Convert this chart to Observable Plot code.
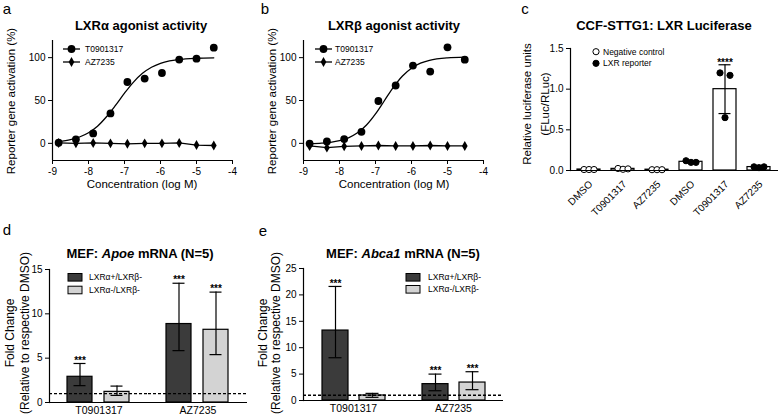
<!DOCTYPE html>
<html><head><meta charset="utf-8">
<script src="https://cdn.jsdelivr.net/npm/d3@7"></script>
<script src="https://cdn.jsdelivr.net/npm/@observablehq/plot@0.6"></script>
<style>
body{margin:0;background:#fff;}
#wrap{position:relative;width:778px;height:418px;overflow:hidden;background:#fff;font-family:"Liberation Sans",Arial,sans-serif;color:#000;}
.abs{position:absolute;white-space:nowrap;line-height:1;}
.panel{position:absolute;}
.panel svg{overflow:visible;}
</style></head><body><div id="wrap"></div>
<script>
// ---------- data ----------
// Panels a & b: concentration series (log M)
const concLog = [-8.83, -8.35, -7.87, -7.39, -6.92, -6.44, -5.96, -5.48, -5.0, -4.52];
const aT0901317 = [0.7, 4.7, 11.6, 34.9, 71.6, 75.6, 82.1, 97.7, 98.8, 111.6];
const aAZ7235 = [0.5, 0, 0.5, 0, -0.5, 0, 0, 0.5, -2, -2.5];
const bT0901317 = [-0.3, 2.3, 5, 13.5, 49.4, 67.5, 90.7, 83.8, 112, 97.6];
const bAZ7235 = [-3, -5, -3.5, -3, -2.5, -3, -3, -2.5, -3, -3];
// fitted curves
const fitX = [-8.83, -8.5, -8.25, -8, -7.75, -7.5, -7.25, -7, -6.75, -6.5, -6.25, -6, -5.75, -5.5, -5, -4.52];
const aFit = [2, 4.3, 7.4, 12.4, 20, 31, 44.3, 58.5, 71.5, 81.7, 88.8, 93.4, 96.2, 97.8, 99.3, 99.8];
const bFit = [-0.5, 0.2, 1.2, 3.1, 6.5, 12.3, 21.4, 34.4, 50, 65.6, 78.6, 87.7, 93.5, 96.9, 99.8, 100.6];
const xTicksAB = [-9, -8, -7, -6, -5, -4];
const yTicksAB = [0, 50, 100];

// Panel c
const cCond = ["DMSO", "T0901317", "AZ7235", "DMSO", "T0901317", "AZ7235"];
const cCell = ["Negative control", "Negative control", "Negative control", "LXR reporter", "LXR reporter", "LXR reporter"];
const cMean = [0.012, 0.02, 0.01, 0.107, 1.0, 0.042];
const cSD = [0.003, 0.005, 0.002, 0.012, 0.3, 0.006];
const cRep1 = [0.012, 0.025, 0.01, 0.12, 1.2, 0.045];
const cRep2 = [0.012, 0.015, 0.01, 0.1, 0.65, 0.035];
const cRep3 = [0.012, 0.02, 0.01, 0.1, 1.17, 0.045];
const cStars = ["", "", "", "", "****", ""];
const yTicksC = [0, 0.5, 1.0, 1.5];

// Panels d & e
const compounds = ["T0901317", "AZ7235"];
const genotypes = ["LXRα+/LXRβ-", "LXRα-/LXRβ-"];
const barColors = ["#3b3b3b", "#d3d3d3"];
// order: T0901317 (+/-), T0901317 (-/-), AZ7235 (+/-), AZ7235 (-/-)
const apoeMean = [2.9, 1.2, 8.85, 8.2];
const apoeLow = [1.9, 0.8, 5.85, 5.4];
const apoeHigh = [4.4, 1.85, 13.45, 12.45];
const apoeStars = ["***", "", "***", "***"];
const abcaMean = [13.25, 0.95, 3.1, 3.4];
const abcaLow = [8.1, 0.6, 1.85, 2.05];
const abcaHigh = [21.6, 1.35, 5.0, 5.45];
const abcaStars = ["***", "", "***", "***"];

// ---------- helpers ----------
const wrap = document.getElementById("wrap");
const FONT = '"Liberation Sans", Arial, sans-serif';
const baseStyle = {fontFamily: FONT, fontSize: "10px", color: "#000", background: "transparent", overflow: "visible"};

function place(node, left, top) {
  const d = document.createElement("div");
  d.className = "panel";
  d.style.left = left + "px"; d.style.top = top + "px";
  d.appendChild(node);
  wrap.appendChild(d);
}
function txt(html, x, y, o = {}) {
  const d = document.createElement("div");
  d.className = "abs";
  d.innerHTML = html;
  d.style.left = x + "px"; d.style.top = y + "px";
  d.style.fontSize = (o.size || 10) + "px";
  d.style.fontWeight = o.weight || "normal";
  const tx = o.anchor === "start" ? "0" : "-50%";
  d.style.transform = `translate(${tx},-50%)` + (o.rotate ? ` rotate(${o.rotate}deg)` : "");
  wrap.appendChild(d);
}

// ---------- panels a & b ----------
function doseResponse(tVals, azVals, fitVals, ml, mr) {
  const tData = concLog.map((x, i) => ({x, y: tVals[i]}));
  const azData = concLog.map((x, i) => ({x, y: azVals[i]}));
  const fitData = fitX.map((x, i) => ({x, y: fitVals[i]}));
  return Plot.plot({
    width: 260, height: 200, marginLeft: ml, marginRight: mr, marginTop: 40, marginBottom: 40,
    style: baseStyle,
    x: {domain: [-9, -4], label: null},
    y: {domain: [-20, 120], label: null},
    marks: [
      Plot.ruleX([-9], {strokeWidth: 1.2}),
      Plot.ruleY([-20], {strokeWidth: 1.2}),
      Plot.axisX({ticks: xTicksAB, tickFormat: d => String(d), tickSize: 4, tickPadding: 3, label: null}),
      Plot.axisY({ticks: yTicksAB, tickSize: 4, tickPadding: 3, label: null}),
      Plot.line(fitData, {x: "x", y: "y", curve: "monotone-x", stroke: "#000", strokeWidth: 1.3}),
      Plot.line(azData, {x: "x", y: "y", stroke: "#000", strokeWidth: 1.3}),
      Plot.dot(azData, {x: "x", y: "y", symbol: "diamond", r: 3, fill: "#000"}),
      Plot.dot(tData, {x: "x", y: "y", r: 3.9, fill: "#000"})
    ]
  });
}
place(doseResponse(aT0901317, aAZ7235, aFit, 52, 28), 0, 0);
place(doseResponse(bT0901317, bAZ7235, bFit, 43, 37), 260, 0);

// ---------- panel c ----------
const cRows = cMean.map((m, i) => ({i, cond: cCond[i], cell: cCell[i], mean: m, lo: m - cSD[i], hi: m + cSD[i], stars: cStars[i]}));
const cReps = [];
[cRep1, cRep2, cRep3].forEach((arr, r) => arr.forEach((v, i) => cReps.push({i, rep: r, v, fill: cCell[i] === "LXR reporter" ? "#000" : "#fff"})));
const repDx = [-5, 0, 5];
const pC = Plot.plot({
  width: 258, height: 215, marginLeft: 50, marginRight: 0, marginTop: 48, marginBottom: 45,
  style: baseStyle,
  x: {domain: d3.range(6), paddingInner: 0.32, paddingOuter: 0.16, label: null},
  y: {domain: [0, 1.5], label: null},
  marks: [
    Plot.barY(cRows, {x: "i", y: "mean", fill: "#fff", stroke: "#000", strokeWidth: 1.2}),
    Plot.ruleX(cRows, {x: "i", y1: "lo", y2: "hi", strokeWidth: 1.2}),
    Plot.tickY(cRows, {x: "i", y: "lo", insetLeft: 5.5, insetRight: 5.5, strokeWidth: 1.2}),
    Plot.tickY(cRows, {x: "i", y: "hi", insetLeft: 5.5, insetRight: 5.5, strokeWidth: 1.2}),
    ...[0, 1, 2].map(r => Plot.dot(cReps.filter(d => d.rep === r), {x: "i", y: "v", dx: repDx[r], r: 3.1, fill: "fill", stroke: "#000", strokeWidth: 1})),
    Plot.text(cRows.filter(d => d.stars), {x: "i", y: "hi", text: "stars", dy: -2, fontSize: 10, fontWeight: "bold"}),
    Plot.ruleY([0], {strokeWidth: 1.2}),
    Plot.frame({anchor: "left", strokeWidth: 1.2}),
    Plot.axisY({ticks: yTicksC, tickFormat: d3.format(".1f"), tickSize: 4, tickPadding: 3, label: null}),
    Plot.axisX({tickFormat: i => cCond[i], tickRotate: -45, tickSize: 0, tickPadding: 5, dy: 7, dx: 2, label: null})
  ]
});
place(pC, 520, 0);

// ---------- panels d & e ----------
function grouped(mean, low, high, stars, yMax, yTicks, ml, mr, mt, mb, pi, po) {
  const rows = mean.map((m, k) => ({compound: compounds[Math.floor(k / 2)], genotype: genotypes[k % 2], mean: m, lo: low[k], hi: high[k], stars: stars[k]}));
  return Plot.plot({
    width: 260, height: 218, marginLeft: ml, marginRight: mr, marginTop: mt, marginBottom: mb,
    style: baseStyle,
    fx: {domain: compounds, padding: 0, label: null},
    x: {domain: genotypes, paddingInner: pi, paddingOuter: po, axis: null},
    y: {domain: [0, yMax], label: null},
    color: {domain: genotypes, range: barColors},
    marks: [
      Plot.barY(rows, {fx: "compound", x: "genotype", y: "mean", fill: "genotype", stroke: "#000", strokeWidth: 1.2}),
      Plot.ruleX(rows, {fx: "compound", x: "genotype", y1: "lo", y2: "hi", strokeWidth: 1.2}),
      Plot.tickY(rows, {fx: "compound", x: "genotype", y: "lo", insetLeft: 6.5, insetRight: 6.5, strokeWidth: 1.2}),
      Plot.tickY(rows, {fx: "compound", x: "genotype", y: "hi", insetLeft: 6.5, insetRight: 6.5, strokeWidth: 1.2}),
      Plot.text(rows.filter(d => d.stars), {fx: "compound", x: "genotype", y: "hi", text: "stars", dy: -3, fontSize: 10, fontWeight: "bold"}),
      Plot.ruleY([1], {strokeDasharray: "3,2", strokeWidth: 1.4}),
      Plot.ruleY([0], {strokeWidth: 1.2}),
      Plot.frame({anchor: "left", facet: "super", strokeWidth: 1.2}),
      Plot.axisY({ticks: yTicks, tickSize: 4, tickPadding: 3, label: null}),
      Plot.axisFx({anchor: "bottom", tickSize: 0, tickPadding: 4, fontSize: 10.5, label: null})
    ]
  });
}
place(grouped(apoeMean, apoeLow, apoeHigh, apoeStars, 15, [0, 5, 10, 15], 48, 13, 69, 16, 0.32, 0.47), 0, 200);
place(grouped(abcaMean, abcaLow, abcaHigh, abcaStars, 25, [0, 5, 10, 15, 20, 25], 42, 17, 68, 18, 0.31, 0.5), 260, 200);

// ---------- titles, labels ----------
txt("a", 7, 8, {size: 15});
txt("b", 265, 8, {size: 15});
txt("c", 525, 8, {size: 15});
txt("d", 7, 229, {size: 15});
txt("e", 263, 230, {size: 15});

txt("LXRα agonist activity", 141, 25, {size: 13, weight: "bold"});
txt("LXRβ agonist activity", 394, 25, {size: 13, weight: "bold"});
txt("CCF-STTG1: LXR Luciferase", 664, 25, {size: 13, weight: "bold"});
txt("MEF: <i>Apoe</i> mRNA (N=5)", 140, 253, {size: 13, weight: "bold"});
txt("MEF: <i>Abca1</i> mRNA (N=5)", 403, 253, {size: 13, weight: "bold"});

txt("Concentration (log M)", 142, 185, {size: 11.5});
txt("Concentration (log M)", 394, 185, {size: 11.5});
txt("Reporter gene activation (%)", 12, 101, {size: 11.5, rotate: -90});
txt("Reporter gene activation (%)", 273, 101, {size: 11.5, rotate: -90});
txt("Relative luciferase units", 528, 104, {size: 11.5, rotate: -90});
txt("(FLuc/RLuc)", 546, 104, {size: 11.5, rotate: -90});
txt("Fold Change", 10, 333, {size: 12, rotate: -90});
txt("(Relative to respective DMSO)", 25, 333, {size: 12, rotate: -90});
txt("Fold Change", 263, 333, {size: 12, rotate: -90});
txt("(Relative to respective DMSO)", 276, 333, {size: 12, rotate: -90});

// ---------- legends ----------
const ov = d3.create("svg").attr("width", 778).attr("height", 418)
  .style("position", "absolute").style("left", 0).style("top", 0).style("pointer-events", "none");
function lineLegend(x1, x2, y, sym) {
  ov.append("line").attr("x1", x1).attr("x2", x2).attr("y1", y).attr("y2", y).attr("stroke", "#000").attr("stroke-width", 1.3);
  if (sym === "circle") ov.append("circle").attr("cx", (x1 + x2) / 2).attr("cy", y).attr("r", 3.9).attr("fill", "#000");
  else ov.append("path").attr("d", d3.symbol(d3.symbolDiamond, 28)()).attr("transform", `translate(${(x1 + x2) / 2},${y})`).attr("fill", "#000");
}
lineLegend(63, 80, 49, "circle"); lineLegend(63, 80, 62, "diamond");
lineLegend(315, 332, 49, "circle"); lineLegend(315, 332, 62, "diamond");
ov.append("circle").attr("cx", 596).attr("cy", 51.7).attr("r", 3.1).attr("fill", "#fff").attr("stroke", "#000");
ov.append("circle").attr("cx", 596).attr("cy", 63.3).attr("r", 3.1).attr("fill", "#000").attr("stroke", "#000");
function swatch(x, y, c) {
  ov.append("rect").attr("x", x).attr("y", y - 3.8).attr("width", 14).attr("height", 7.6).attr("fill", c).attr("stroke", "#000").attr("stroke-width", 1);
}
swatch(68, 277.3, barColors[0]); swatch(68, 290, barColors[1]);
swatch(406, 277.3, barColors[0]); swatch(406, 289.3, barColors[1]);
wrap.appendChild(ov.node());

txt("T0901317", 85, 49, {size: 8.5, anchor: "start"});
txt("AZ7235", 85, 62, {size: 8.5, anchor: "start"});
txt("T0901317", 335, 49, {size: 8.5, anchor: "start"});
txt("AZ7235", 335, 62, {size: 8.5, anchor: "start"});
txt("Negative control", 603, 51.7, {size: 8.5, anchor: "start"});
txt("LXR reporter", 603, 63.3, {size: 8.5, anchor: "start"});
txt(genotypes[0], 89, 277.3, {size: 8.5, anchor: "start"});
txt(genotypes[1], 89, 290, {size: 8.5, anchor: "start"});
txt(genotypes[0], 428, 277.3, {size: 8.5, anchor: "start"});
txt(genotypes[1], 428, 289.3, {size: 8.5, anchor: "start"});
</script></body></html>
